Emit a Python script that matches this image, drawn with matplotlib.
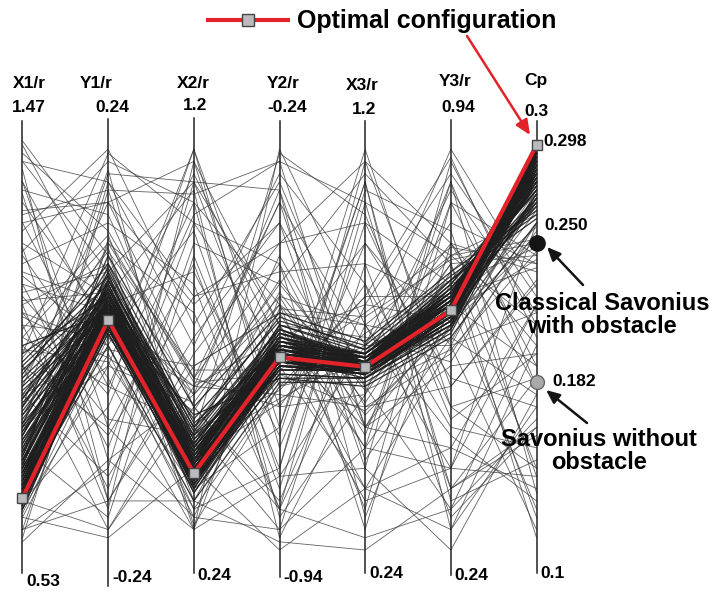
import matplotlib
matplotlib.use('Agg')
import matplotlib.pyplot as plt
import numpy as np

plt.rcParams['font.family'] = ['Liberation Sans', 'DejaVu Sans']
plt.rcParams['font.weight'] = 'bold'

# axes of the parallel plot
names = ['X1/r', 'Y1/r', 'X2/r', 'Y2/r', 'X3/r', 'Y3/r', 'Cp']
top_vals = [1.47, 0.24, 1.2, -0.24, 1.2, 0.94, 0.3]
bot_vals = [0.53, -0.24, 0.24, -0.94, 0.24, 0.24, 0.1]
top_txt = ['1.47', '0.24', '1.2', '-0.24', '1.2', '0.94', '0.3']
bot_txt = ['0.53', '-0.24', '0.24', '-0.94', '0.24', '0.24', '0.1']

# optimal configuration (real units)
optimal = [0.65, 0.03, 0.42, -0.61, 0.67, 0.65, 0.298]

# reference turbines on Cp axis
cp_classic = 0.250
cp_no_obst = 0.182

# evaluated designs, position along each axis in % of its range
# converged designs (dense band around the optimum)
converged = [
    [14, 57, 20, 47, 45, 59, 98], [16, 58, 21, 48, 46, 60, 97], [11, 55, 18, 46, 44, 58, 99],
    [13, 59, 22, 49, 46, 61, 96], [17, 56, 19, 45, 44, 57, 98], [12, 54, 17, 47, 45, 59, 97],
    [15, 60, 23, 50, 47, 62, 95], [18, 57, 18, 46, 45, 58, 96], [10, 56, 20, 48, 46, 60, 98],
    [14, 61, 24, 51, 46, 61, 94], [19, 58, 21, 47, 44, 58, 97], [13, 53, 16, 45, 43, 57, 99],
    [16, 59, 19, 49, 47, 60, 95], [12, 57, 22, 50, 45, 59, 96], [20, 60, 20, 46, 44, 58, 93],
    [15, 55, 18, 48, 46, 61, 98], [17, 62, 25, 49, 45, 60, 94], [11, 58, 19, 47, 44, 57, 97],
    [14, 56, 21, 52, 48, 62, 95], [18, 59, 17, 45, 45, 59, 96], [13, 60, 23, 48, 46, 60, 97],
    [16, 54, 20, 46, 44, 58, 98], [21, 61, 22, 50, 47, 63, 93], [12, 59, 18, 49, 45, 61, 96],
    [15, 57, 24, 47, 46, 59, 95], [19, 55, 19, 51, 47, 60, 94], [14, 62, 21, 46, 43, 56, 97],
    [17, 58, 16, 48, 45, 58, 99], [10, 57, 22, 47, 46, 60, 96], [22, 59, 20, 49, 44, 59, 92],
    [15, 58, 20, 48, 45, 59, 97], [18, 60, 18, 46, 44, 57, 95], [22, 62, 22, 50, 46, 60, 93],
    [12, 55, 17, 45, 43, 56, 96], [25, 64, 24, 49, 47, 61, 92], [30, 61, 21, 52, 45, 62, 90],
    [20, 57, 15, 47, 42, 58, 94], [27, 59, 19, 44, 44, 55, 91], [35, 63, 23, 51, 46, 63, 88],
    [17, 54, 20, 49, 45, 60, 97], [23, 66, 26, 53, 48, 64, 89], [40, 60, 18, 47, 43, 57, 86],
    [14, 58, 14, 45, 44, 59, 98], [28, 62, 25, 50, 47, 61, 93], [33, 57, 16, 48, 45, 58, 90],
    [21, 65, 22, 54, 46, 62, 95], [38, 64, 28, 46, 43, 56, 87], [16, 56, 19, 43, 42, 54, 96],
    [26, 60, 21, 51, 48, 65, 92], [31, 67, 24, 49, 44, 60, 94], [19, 61, 17, 52, 47, 63, 91],
    [42, 62, 27, 48, 45, 59, 85], [24, 58, 20, 46, 46, 57, 93], [36, 59, 23, 55, 49, 62, 89],
    [13, 57, 18, 47, 44, 58, 98], [29, 63, 19, 45, 43, 61, 95], [45, 65, 25, 50, 46, 66, 84],
    [22, 59, 16, 48, 45, 58, 96], [34, 61, 22, 53, 47, 60, 91], [18, 64, 21, 44, 44, 57, 94],
    [39, 58, 26, 51, 48, 63, 88], [27, 56, 18, 49, 45, 59, 92], [15, 62, 20, 46, 43, 56, 97],
    [32, 60, 24, 52, 46, 62, 90], [24, 68, 30, 50, 45, 64, 86], [44, 63, 20, 47, 44, 58, 87],
    [20, 55, 17, 42, 42, 55, 95], [37, 66, 29, 54, 47, 61, 89], [26, 61, 22, 48, 46, 60, 93],
    [16, 59, 19, 50, 45, 59, 96], [48, 62, 32, 56, 50, 67, 82], [30, 58, 15, 45, 43, 57, 94],
    [21, 63, 23, 49, 47, 62, 92], [35, 69, 27, 53, 46, 65, 88], [12, 53, 16, 44, 44, 56, 97],
    [41, 60, 21, 51, 45, 60, 86], [25, 57, 19, 47, 46, 58, 95], [33, 64, 25, 55, 48, 63, 91],
    [19, 60, 18, 46, 44, 59, 97], [28, 65, 24, 48, 45, 61, 90], [50, 58, 33, 42, 40, 52, 80],
    [23, 72, 35, 58, 51, 68, 83], [14, 50, 12, 41, 41, 53, 92], [46, 67, 30, 57, 49, 66, 81],
    [31, 55, 14, 43, 42, 54, 93], [37, 62, 26, 52, 47, 64, 85], [17, 61, 20, 45, 43, 55, 98],
    [43, 70, 31, 49, 46, 60, 84], [29, 54, 17, 50, 48, 62, 96], [22, 66, 28, 54, 45, 59, 90],
]
# remaining designs (spread over the whole space)
scattered = [
    [55, 52, 40, 38, 35, 48, 78], [60, 70, 38, 62, 55, 72, 76], [8, 48, 10, 40, 50, 50, 88],
    [52, 75, 42, 35, 38, 70, 72], [5, 66, 30, 60, 33, 55, 83], [58, 50, 8, 55, 52, 46, 80],
    [47, 73, 44, 44, 58, 74, 70], [10, 45, 36, 65, 40, 60, 79], [63, 68, 12, 50, 30, 65, 74],
    [38, 49, 45, 58, 55, 51, 86], [54, 77, 25, 37, 48, 75, 68], [9, 52, 28, 63, 36, 68, 87],
    [65, 58, 40, 52, 60, 56, 77], [42, 74, 6, 40, 45, 72, 82], [57, 47, 34, 66, 39, 49, 73],
    [3, 70, 22, 36, 53, 66, 90], [68, 60, 38, 60, 44, 58, 71], [49, 46, 15, 59, 57, 71, 75],
    [11, 76, 41, 43, 34, 54, 85], [61, 63, 29, 39, 62, 62, 69],
    [90, 30, 70, 15, 80, 35, 20], [73, 95, 85, 60, 10, 85, 45], [95, 68, 5, 98, 55, 20, 60],
    [60, 10, 95, 30, 90, 5, 35], [40, 85, 60, 80, 20, 95, 55], [80, 40, 30, 5, 70, 60, 10],
    [20, 90, 50, 92, 65, 30, 25], [65, 25, 80, 70, 5, 75, 50], [85, 55, 10, 20, 95, 40, 65],
    [5, 20, 90, 55, 25, 90, 40], [70, 80, 65, 10, 85, 15, 30], [45, 5, 40, 85, 50, 80, 70],
    [100, 72, 20, 45, 15, 25, 15], [30, 45, 98, 25, 75, 50, 5], [78, 98, 55, 90, 40, 10, 55],
    [55, 15, 75, 65, 92, 70, 20], [88, 82, 35, 12, 60, 92, 62], [12, 35, 82, 95, 30, 45, 48],
    [67, 50, 92, 50, 12, 20, 80], [93, 12, 48, 75, 80, 65, 8], [35, 93, 15, 30, 98, 35, 42],
    [75, 62, 88, 3, 45, 88, 58], [50, 28, 62, 68, 70, 15, 28], [97, 78, 42, 85, 22, 52, 38],
    [25, 8, 72, 20, 88, 78, 18], [82, 88, 25, 72, 35, 40, 66], [62, 38, 98, 40, 62, 96, 52],
    [15, 75, 58, 10, 55, 28, 12], [87, 22, 38, 88, 8, 60, 45], [48, 97, 80, 48, 75, 42, 35],
    [72, 42, 5, 62, 28, 85, 72], [99, 60, 68, 28, 90, 12, 22], [38, 18, 52, 80, 42, 70, 3],
    [80, 85, 95, 55, 15, 50, 58], [58, 32, 28, 97, 82, 32, 48], [90, 52, 78, 18, 50, 98, 64],
    [28, 68, 90, 35, 65, 8, 30], [74, 12, 45, 58, 25, 55, 76], [95, 90, 62, 75, 95, 75, 40],
    [52, 40, 85, 8, 38, 90, 14], [83, 85, 42, 70, 30, 58, 88], [30, 92, 90, 88, 30, 25, 60],
    [20, 88, 87, 95, 85, 72, 55], [5, 12, 12, 2, 0, 15, 42], [8, 3, 20, 0, 15, 5, 50],
    [2, 22, 5, 18, 20, 0, 38], [45, 30, 8, 5, 25, 20, 18], [12, 5, 35, 10, 3, 10, 32],
]

# pixel layout helpers (axis spacing 85.67 px, 4.09 px per %)
X0, DX = 22.5, 85.67
Y0, DY = 550.0, 4.09
def px(x):
    return (x - X0) / DX
def py(y):
    return (Y0 - y) / DY

def to_pct(v, i):
    return (v - bot_vals[i]) / (top_vals[i] - bot_vals[i]) * 100

fig = plt.figure(figsize=(7.15, 5.93), dpi=100)
ax = fig.add_axes([0, 0, 1, 1])
ax.set_xlim(px(0), px(715))
ax.set_ylim(py(593), py(0))
ax.axis('off')

xs = np.arange(len(names))

# axis lines
ax_top = [121, 119, 118, 121, 121, 120, 121]
ax_bot = [573, 586, 573, 577, 573, 575, 573]
for i in xs:
    ax.plot([i, i], [py(ax_bot[i]), py(ax_top[i])], color='#222222', lw=1.1, zorder=3)

for d in scattered:
    ax.plot(xs, d, color='#3a3a3a', lw=0.6, alpha=0.8, zorder=2)
for d in converged:
    ax.plot(xs, d, color='#1e1e1e', lw=0.9, alpha=0.9, zorder=2)

# optimal line
opt_pct = [to_pct(v, i) for i, v in enumerate(optimal)]
ax.plot(xs, opt_pct, color='#e3222a', lw=3, zorder=5,
        marker='s', markersize=7.5, markerfacecolor='#b9bbbf', markeredgecolor='#444444',
        markeredgewidth=1)

# reference points on Cp
ax.plot(6, to_pct(cp_classic, 6), 'o', markersize=11, color='#141414', zorder=6)
ax.plot(6, to_pct(cp_no_obst, 6), 'o', markersize=10, markerfacecolor='#a9a9ab',
        markeredgecolor='#666666', markeredgewidth=1, zorder=6)

# axis labels
name_dx = [7, -12, 0, 4, -3, 4, -1]
name_y = [84, 84, 84, 84, 85, 82, 80]
top_dx = [6, 4, 1, 8, -1, 7, 0]
top_y = [107, 107, 105, 107, 110, 108, 111]
bot_y = [582, 578, 576, 578, 574, 576, 573]
for i in xs:
    ax.text(i + name_dx[i] / DX, py(name_y[i]), names[i], ha='center', va='center', fontsize=12.5)
    ax.text(i + top_dx[i] / DX, py(top_y[i]), top_txt[i], ha='center', va='center', fontsize=12.5)
    ax.text(i + 4 / DX, py(bot_y[i]), bot_txt[i], ha='left', va='center', fontsize=12.5)

# value labels on Cp axis
ax.text(px(543), py(141), '%.3f' % optimal[6], ha='left', va='center', fontsize=12.5)
ax.text(px(544), py(225), '%.3f' % cp_classic, ha='left', va='center', fontsize=12.5)
ax.text(px(552), py(382), '%.3f' % cp_no_obst, ha='left', va='center', fontsize=12.5)

# legend
ax.plot([px(208), px(288)], [py(20), py(20)], color='#e3222a', lw=3, clip_on=False)
ax.plot(px(248), py(20), 's', markersize=9, markerfacecolor='#b9bbbf',
        markeredgecolor='#444444', markeredgewidth=1)
ax.text(px(297), py(21), 'Optimal configuration', ha='left', va='center', fontsize=18)

# arrows
ax.annotate('', xy=(px(530), py(135)), xytext=(px(467), py(36)),
            arrowprops=dict(arrowstyle='-|>,head_length=0.9,head_width=0.4',
                            color='#e3222a', lw=1.8, shrinkA=0, shrinkB=0))
ax.annotate('', xy=(px(547), py(247)), xytext=(px(583), py(285)),
            arrowprops=dict(arrowstyle='-|>,head_length=0.8,head_width=0.35',
                            color='#141414', lw=1.8, shrinkA=0, shrinkB=0))
ax.annotate('', xy=(px(546), py(390)), xytext=(px(587), py(423)),
            arrowprops=dict(arrowstyle='-|>,head_length=0.8,head_width=0.35',
                            color='#141414', lw=1.8, shrinkA=0, shrinkB=0))

ax.text(px(602), py(315), 'Classical Savonius\nwith obstacle', ha='center', va='center',
        fontsize=17, linespacing=1.05)
ax.text(px(599), py(451), 'Savonius without\nobstacle', ha='center', va='center',
        fontsize=17, linespacing=1.05)

fig.savefig('out.png', dpi=100)
